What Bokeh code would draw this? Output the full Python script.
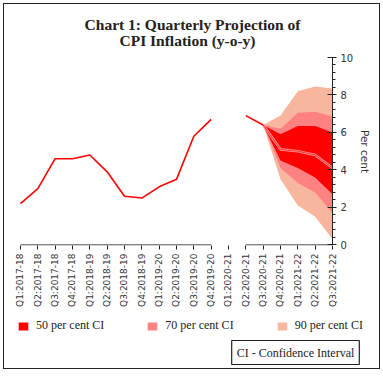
import math
from bokeh.plotting import figure
from bokeh.layouts import column, row
from bokeh.models import FixedTicker, Legend, LegendItem, Range1d, Label
from bokeh.embed import file_html
from bokeh.resources import INLINE

categories = ["Q1:2017-18", "Q2:2017-18", "Q3:2017-18", "Q4:2017-18",
              "Q1:2018-19", "Q2:2018-19", "Q3:2018-19", "Q4:2018-19",
              "Q1:2019-20", "Q2:2019-20", "Q3:2019-20", "Q4:2019-20",
              "Q1:2020-21", "Q2:2020-21", "Q3:2020-21", "Q4:2020-21",
              "Q1:2021-22", "Q2:2021-22", "Q3:2021-22"]
# actual CPI inflation (Q1:2020-21 not available)
actual = [2.2, 3.0, 4.6, 4.6, 4.8, 3.9, 2.6, 2.5, 3.1, 3.5, 5.8, 6.7,
          float("nan"), 6.9, 6.4]
proj_periods = ["Q3:2020-21", "Q4:2020-21", "Q1:2021-22", "Q2:2021-22", "Q3:2021-22"]
central = [6.4, 5.1, 5.0, 4.8, 4.1]
ci50_lo = [6.4, 4.5, 4.1, 3.6, 2.7]
ci50_hi = [6.4, 5.9, 6.35, 6.35, 6.0]
ci70_lo = [6.4, 4.1, 3.3, 2.8, 1.7]
ci70_hi = [6.4, 6.2, 7.05, 7.1, 6.85]
ci90_lo = [6.4, 3.5, 2.1, 1.5, 0.3]
ci90_hi = [6.4, 6.9, 8.2, 8.45, 8.35]
y_ticks = [0, 2, 4, 6, 8, 10]
legend_labels = ["50 per cent CI", "70 per cent CI", "90 per cent CI"]
title_lines = ["Chart 1: Quarterly Projection of", "CPI Inflation (y-o-y)"]

C50, C70, C90 = "#FF0000", "#FF8282", "#F9B69E"
SERIF = "Liberation Serif"

xi = list(range(len(categories)))
xa = xi[:len(actual)]
xp = [categories.index(c) for c in proj_periods]


def strip(h):
    f = figure(width=375, height=h, output_backend="svg", toolbar_location=None,
               x_range=Range1d(100, 101), y_range=Range1d(100, 101),
               x_axis_location=None, y_axis_location=None,
               min_border=0, min_border_left=0, min_border_right=0,
               min_border_top=0, min_border_bottom=0)
    f.grid.visible = False
    f.outline_line_color = None
    return f


# title strip
p0 = strip(47)
p0.add_layout(Label(x=188, y=27, x_units="screen", y_units="screen", text=title_lines[0],
                    text_align="center", text_baseline="alphabetic", text_font=SERIF,
                    text_font_size="15.5px", text_font_style="bold", text_color="#222222"))
p0.add_layout(Label(x=183, y=11, x_units="screen", y_units="screen", text=title_lines[1],
                    text_align="center", text_baseline="alphabetic", text_font=SERIF,
                    text_font_size="15.5px", text_font_style="bold", text_color="#222222"))

# main chart
p = figure(width=375, height=262, output_backend="svg", toolbar_location=None,
           x_range=Range1d(-0.46, len(categories) - 1),
           y_range=Range1d(-0.03, 10), y_axis_location="right",
           min_border_left=8, min_border_right=47, min_border_top=6,
           min_border_bottom=68)
p.grid.visible = False
p.outline_line_color = None
p.border_fill_alpha = 0

p.varea(x=xp, y1=ci90_lo, y2=ci90_hi, fill_color=C90)
p.varea(x=xp, y1=ci70_lo, y2=ci70_hi, fill_color=C70)
p.varea(x=xp, y1=ci50_lo, y2=ci50_hi, fill_color=C50)
p.line(xp, central, line_color="#FF9090", line_width=2.6)
p.line(xp, central, line_color="#FF2020", line_width=0.8)
p.line(xa, actual, line_color="#FF0000", line_width=1.6)

gap = categories.index("Q1:2020-21")
p.segment(x0=[0, gap + 1], x1=[gap - 1, len(categories) - 1], y0=[0, 0], y1=[0, 0],
          line_color="#222222", line_width=1)

xax = p.xaxis[0]
xax.ticker = FixedTicker(ticks=xi)
xax.major_label_overrides = {i: c for i, c in enumerate(categories)}
xax.major_label_orientation = math.pi / 2
xax.axis_line_color = None
xax.major_tick_in = 0
xax.major_tick_out = 4
xax.major_tick_line_color = "#222222"
xax.minor_tick_line_color = None
xax.major_label_standoff = 4
xax.major_label_text_font = "DejaVu Sans"
xax.major_label_text_font_size = "9px"
xax.major_label_text_color = "#333333"

yax = p.yaxis[0]
yax.ticker = FixedTicker(ticks=y_ticks, minor_ticks=[i * 0.4 for i in range(26)])
yax.bounds = (0, 10)
yax.axis_line_color = "#222222"
yax.major_tick_line_color = "#222222"
yax.minor_tick_line_color = "#222222"
yax.major_tick_in = 5
yax.major_tick_out = 4
yax.minor_tick_in = 0
yax.minor_tick_out = 3
yax.major_label_standoff = 4
yax.major_label_text_font = "DejaVu Sans"
yax.major_label_text_font_size = "10px"
yax.major_label_text_color = "#333333"
yax.axis_label = "Per cent"
yax.axis_label_text_font = "DejaVu Sans"
yax.axis_label_text_font_style = "normal"
yax.axis_label_text_font_size = "10.5px"
yax.axis_label_text_color = "#333333"
yax.axis_label_standoff = 3

# legend strip below the chart
p2 = strip(55)
# legend swatches: same bands, kept outside the strip's visible range
rs = [p2.varea(x=xp, y1=lo, y2=hi, fill_color=c)
      for lo, hi, c in ((ci50_lo, ci50_hi, C50), (ci70_lo, ci70_hi, C70), (ci90_lo, ci90_hi, C90))]
legend = Legend(items=[LegendItem(label=l, renderers=[r]) for l, r in zip(legend_labels, rs)],
                orientation="horizontal", location=(13, 35),
                glyph_width=12, glyph_height=10, label_standoff=7, spacing=42,
                padding=0, margin=0, border_line_color=None, background_fill_alpha=0,
                label_text_font=SERIF, label_text_font_size="12px",
                label_text_color="#222222")
p2.add_layout(legend)
p2.add_layout(Label(x=291, y=16, x_units="screen", y_units="screen",
                    text="CI - Confidence Interval", text_align="center",
                    text_baseline="middle", text_font=SERIF, text_font_size="12px",
                    text_color="#222222", border_line_color="#222222",
                    border_line_width=1.2, background_fill_color="white", padding=5))

layout = column(row(p0), p, row(p2), spacing=0,
                styles={"margin": "3px 0 0 3px", "border": "1px solid #222222"})

open("out.html", "w").write(file_html(layout, INLINE))
